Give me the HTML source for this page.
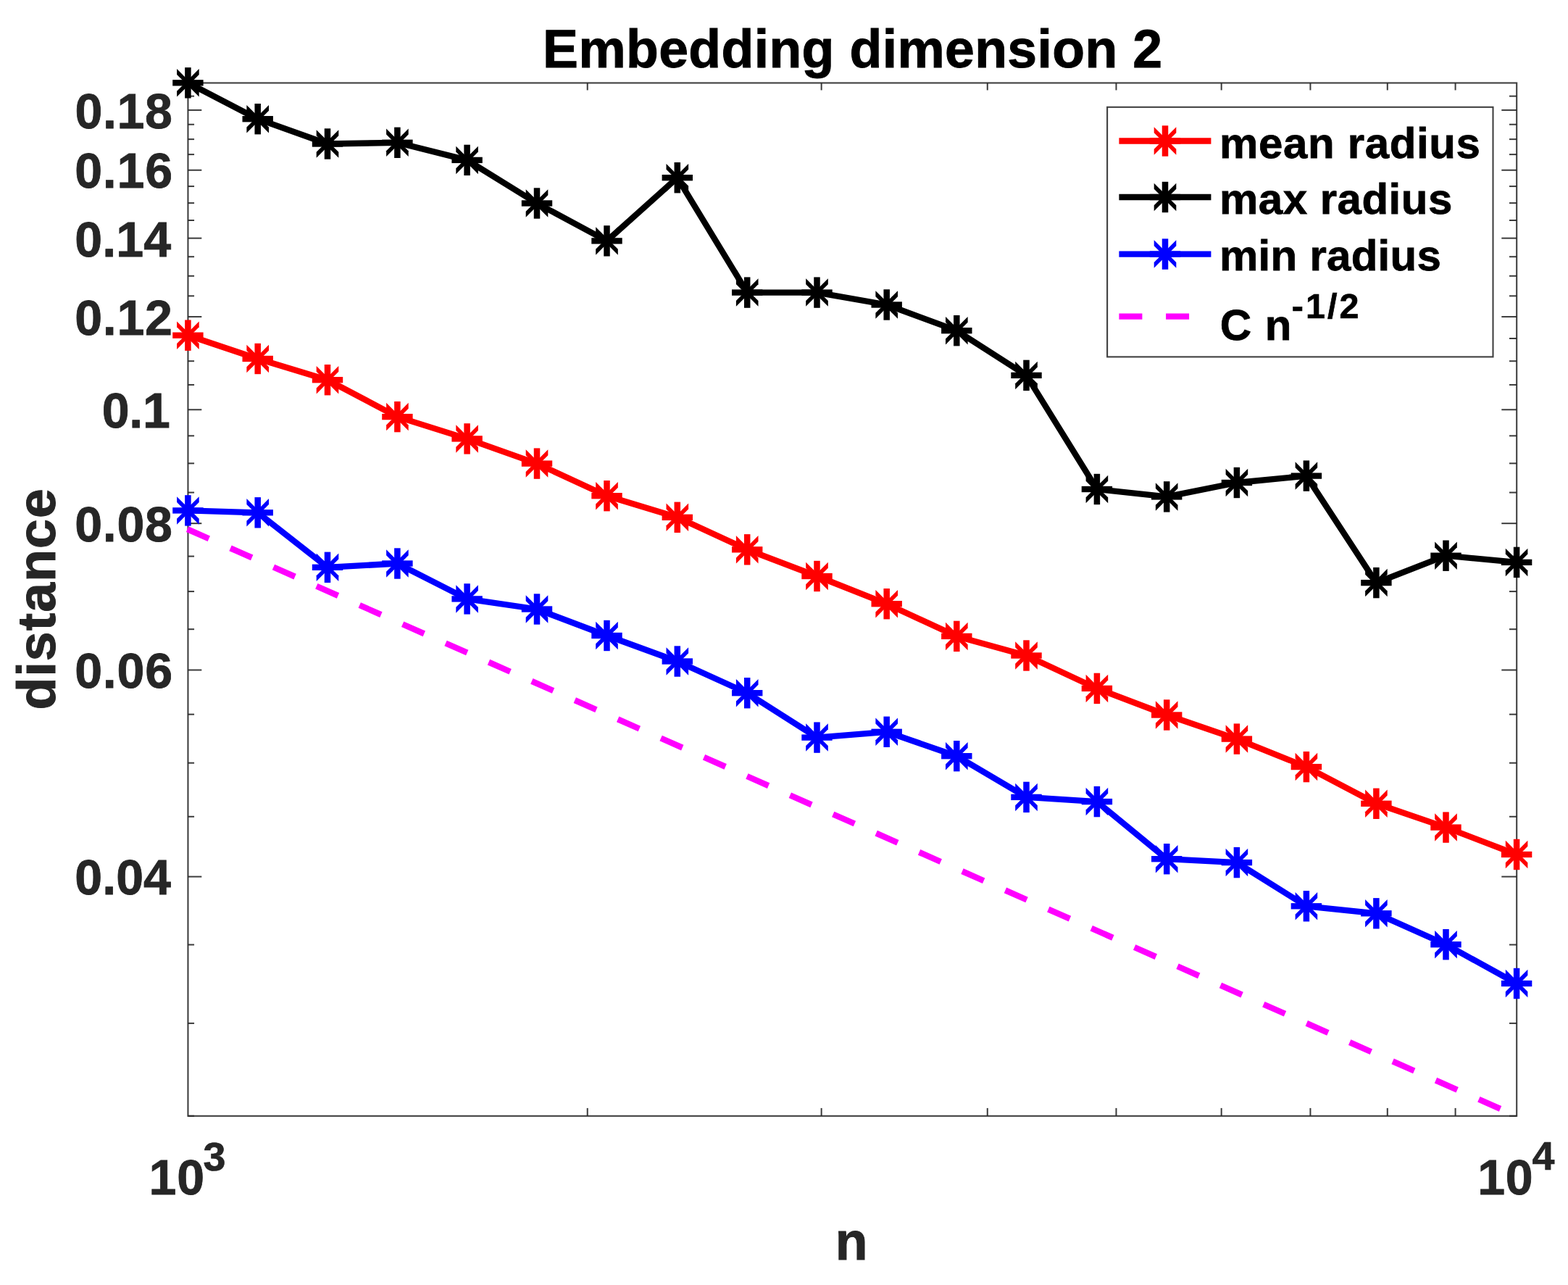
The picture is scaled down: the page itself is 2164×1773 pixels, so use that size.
<!DOCTYPE html>
<html lang="en"><head><meta charset="utf-8"><title>Embedding dimension 2</title>
<style>html,body{margin:0;padding:0;background:#fff;}body{width:2164px;height:1773px;overflow:hidden;}svg{display:block;}text{font-family:"Liberation Sans",sans-serif;font-weight:bold;stroke-linejoin:miter;}</style>
</head><body>
<svg width="2164" height="1773" viewBox="0 0 2164 1773">
<rect x="0" y="0" width="2164" height="1773" fill="#ffffff"/>
<defs><g id="m"><rect x="-4.25" y="-21.2" width="8.5" height="42.4"/><rect x="-21.2" y="-4.17" width="42.4" height="8.34"/><polygon points="-15.3,-19.25 -15.3,-11.35 15.3,19.25 15.3,11.35"/><polygon points="-15.3,11.35 -15.3,19.25 15.3,-11.35 15.3,-19.25"/></g></defs>
<g stroke="#262626" stroke-width="2.0" fill="none" stroke-opacity="0.9" stroke-linecap="butt"><line x1="810.73" y1="1539.8" x2="810.73" y2="1528.90"/><line x1="810.73" y1="114.45" x2="810.73" y2="124.45"/><line x1="1133.64" y1="1539.8" x2="1133.64" y2="1528.90"/><line x1="1133.64" y1="114.45" x2="1133.64" y2="124.45"/><line x1="1362.76" y1="1539.8" x2="1362.76" y2="1528.90"/><line x1="1362.76" y1="114.45" x2="1362.76" y2="124.45"/><line x1="1540.47" y1="1539.8" x2="1540.47" y2="1528.90"/><line x1="1540.47" y1="114.45" x2="1540.47" y2="124.45"/><line x1="1685.67" y1="1539.8" x2="1685.67" y2="1528.90"/><line x1="1685.67" y1="114.45" x2="1685.67" y2="124.45"/><line x1="1808.44" y1="1539.8" x2="1808.44" y2="1528.90"/><line x1="1808.44" y1="114.45" x2="1808.44" y2="124.45"/><line x1="1914.79" y1="1539.8" x2="1914.79" y2="1528.90"/><line x1="1914.79" y1="114.45" x2="1914.79" y2="124.45"/><line x1="2008.59" y1="1539.8" x2="2008.59" y2="1528.90"/><line x1="2008.59" y1="114.45" x2="2008.59" y2="124.45"/><line x1="259.45" y1="1411.90" x2="268.05" y2="1411.90"/><line x1="2093.2" y1="1411.90" x2="2083.00" y2="1411.90"/><line x1="259.45" y1="1303.50" x2="268.05" y2="1303.50"/><line x1="2093.2" y1="1303.50" x2="2083.00" y2="1303.50"/><line x1="259.45" y1="1209.60" x2="278.30" y2="1209.60"/><line x1="2093.2" y1="1209.60" x2="2072.30" y2="1209.60"/><line x1="259.45" y1="1126.77" x2="268.05" y2="1126.77"/><line x1="2093.2" y1="1126.77" x2="2083.00" y2="1126.77"/><line x1="259.45" y1="1052.69" x2="268.05" y2="1052.69"/><line x1="2093.2" y1="1052.69" x2="2083.00" y2="1052.69"/><line x1="259.45" y1="985.66" x2="268.05" y2="985.66"/><line x1="2093.2" y1="985.66" x2="2083.00" y2="985.66"/><line x1="259.45" y1="924.48" x2="278.30" y2="924.48"/><line x1="2093.2" y1="924.48" x2="2072.30" y2="924.48"/><line x1="259.45" y1="868.19" x2="268.05" y2="868.19"/><line x1="2093.2" y1="868.19" x2="2083.00" y2="868.19"/><line x1="259.45" y1="816.08" x2="268.05" y2="816.08"/><line x1="2093.2" y1="816.08" x2="2083.00" y2="816.08"/><line x1="259.45" y1="767.56" x2="268.05" y2="767.56"/><line x1="2093.2" y1="767.56" x2="2083.00" y2="767.56"/><line x1="259.45" y1="722.18" x2="278.30" y2="722.18"/><line x1="2093.2" y1="722.18" x2="2072.30" y2="722.18"/><line x1="259.45" y1="679.55" x2="268.05" y2="679.55"/><line x1="2093.2" y1="679.55" x2="2083.00" y2="679.55"/><line x1="259.45" y1="639.35" x2="268.05" y2="639.35"/><line x1="2093.2" y1="639.35" x2="2083.00" y2="639.35"/><line x1="259.45" y1="601.33" x2="268.05" y2="601.33"/><line x1="2093.2" y1="601.33" x2="2083.00" y2="601.33"/><line x1="259.45" y1="565.26" x2="278.30" y2="565.26"/><line x1="2093.2" y1="565.26" x2="2072.30" y2="565.26"/><line x1="259.45" y1="530.96" x2="268.05" y2="530.96"/><line x1="2093.2" y1="530.96" x2="2083.00" y2="530.96"/><line x1="259.45" y1="498.24" x2="268.05" y2="498.24"/><line x1="2093.2" y1="498.24" x2="2083.00" y2="498.24"/><line x1="259.45" y1="466.98" x2="268.05" y2="466.98"/><line x1="2093.2" y1="466.98" x2="2083.00" y2="466.98"/><line x1="259.45" y1="437.06" x2="278.30" y2="437.06"/><line x1="2093.2" y1="437.06" x2="2072.30" y2="437.06"/><line x1="259.45" y1="408.35" x2="268.05" y2="408.35"/><line x1="2093.2" y1="408.35" x2="2083.00" y2="408.35"/><line x1="259.45" y1="380.77" x2="268.05" y2="380.77"/><line x1="2093.2" y1="380.77" x2="2083.00" y2="380.77"/><line x1="259.45" y1="354.23" x2="268.05" y2="354.23"/><line x1="2093.2" y1="354.23" x2="2083.00" y2="354.23"/><line x1="259.45" y1="328.66" x2="278.30" y2="328.66"/><line x1="2093.2" y1="328.66" x2="2072.30" y2="328.66"/><line x1="259.45" y1="303.98" x2="268.05" y2="303.98"/><line x1="2093.2" y1="303.98" x2="2083.00" y2="303.98"/><line x1="259.45" y1="280.14" x2="268.05" y2="280.14"/><line x1="2093.2" y1="280.14" x2="2083.00" y2="280.14"/><line x1="259.45" y1="257.08" x2="268.05" y2="257.08"/><line x1="2093.2" y1="257.08" x2="2083.00" y2="257.08"/><line x1="259.45" y1="234.76" x2="278.30" y2="234.76"/><line x1="2093.2" y1="234.76" x2="2072.30" y2="234.76"/><line x1="259.45" y1="213.12" x2="268.05" y2="213.12"/><line x1="2093.2" y1="213.12" x2="2083.00" y2="213.12"/><line x1="259.45" y1="192.13" x2="268.05" y2="192.13"/><line x1="2093.2" y1="192.13" x2="2083.00" y2="192.13"/><line x1="259.45" y1="171.74" x2="268.05" y2="171.74"/><line x1="2093.2" y1="171.74" x2="2083.00" y2="171.74"/><line x1="259.45" y1="151.93" x2="278.30" y2="151.93"/><line x1="2093.2" y1="151.93" x2="2072.30" y2="151.93"/><line x1="259.45" y1="132.67" x2="268.05" y2="132.67"/><line x1="2093.2" y1="132.67" x2="2083.00" y2="132.67"/><line x1="259.45" y1="1539.8" x2="268.05" y2="1539.8"/><line x1="2093.2" y1="1539.8" x2="2083.00" y2="1539.8"/></g>
<rect x="259.45" y="114.45" width="1833.75" height="1425.35" fill="none" stroke="#262626" stroke-width="2.1" stroke-opacity="0.88"/>
<g fill="#ff0000" stroke="none"><polyline points="259.40,462.70 355.70,495.00 452.00,524.20 548.40,575.10 644.60,605.40 741.00,639.60 837.50,684.20 934.80,713.80 1031.20,758.30 1127.50,795.00 1223.70,833.20 1320.30,877.90 1416.50,904.50 1513.90,949.90 1610.20,986.50 1706.90,1019.60 1802.90,1058.10 1899.40,1108.80 1995.50,1141.60 2093.10,1179.00" fill="none" stroke="#ff0000" stroke-width="8.33" stroke-linejoin="round" stroke-linecap="butt"/><use href="#m" x="259.40" y="462.70"/><use href="#m" x="355.70" y="495.00"/><use href="#m" x="452.00" y="524.20"/><use href="#m" x="548.40" y="575.10"/><use href="#m" x="644.60" y="605.40"/><use href="#m" x="741.00" y="639.60"/><use href="#m" x="837.50" y="684.20"/><use href="#m" x="934.80" y="713.80"/><use href="#m" x="1031.20" y="758.30"/><use href="#m" x="1127.50" y="795.00"/><use href="#m" x="1223.70" y="833.20"/><use href="#m" x="1320.30" y="877.90"/><use href="#m" x="1416.50" y="904.50"/><use href="#m" x="1513.90" y="949.90"/><use href="#m" x="1610.20" y="986.50"/><use href="#m" x="1706.90" y="1019.60"/><use href="#m" x="1802.90" y="1058.10"/><use href="#m" x="1899.40" y="1108.80"/><use href="#m" x="1995.50" y="1141.60"/><use href="#m" x="2093.10" y="1179.00"/></g>
<g fill="#000000" stroke="none"><polyline points="259.40,114.30 355.70,164.20 452.00,198.50 548.40,196.80 644.60,220.90 741.00,280.50 837.50,332.40 934.80,245.20 1031.20,403.60 1127.50,403.60 1223.70,420.50 1320.30,456.20 1416.50,517.90 1513.90,675.00 1610.20,685.40 1706.90,666.00 1802.90,656.60 1899.40,804.10 1995.50,766.70 2093.10,775.90" fill="none" stroke="#000000" stroke-width="8.33" stroke-linejoin="round" stroke-linecap="butt"/><use href="#m" x="259.40" y="114.30"/><use href="#m" x="355.70" y="164.20"/><use href="#m" x="452.00" y="198.50"/><use href="#m" x="548.40" y="196.80"/><use href="#m" x="644.60" y="220.90"/><use href="#m" x="741.00" y="280.50"/><use href="#m" x="837.50" y="332.40"/><use href="#m" x="934.80" y="245.20"/><use href="#m" x="1031.20" y="403.60"/><use href="#m" x="1127.50" y="403.60"/><use href="#m" x="1223.70" y="420.50"/><use href="#m" x="1320.30" y="456.20"/><use href="#m" x="1416.50" y="517.90"/><use href="#m" x="1513.90" y="675.00"/><use href="#m" x="1610.20" y="685.40"/><use href="#m" x="1706.90" y="666.00"/><use href="#m" x="1802.90" y="656.60"/><use href="#m" x="1899.40" y="804.10"/><use href="#m" x="1995.50" y="766.70"/><use href="#m" x="2093.10" y="775.90"/></g>
<g fill="#0000ff" stroke="none"><polyline points="259.40,704.40 355.70,707.30 452.00,782.80 548.40,777.50 644.60,826.40 741.00,840.50 837.50,877.00 934.80,912.50 1031.20,956.20 1127.50,1017.60 1223.70,1009.80 1320.30,1043.20 1416.50,1099.90 1513.90,1106.10 1610.20,1185.20 1706.90,1190.10 1802.90,1250.30 1899.40,1260.30 1995.50,1303.20 2093.10,1357.00" fill="none" stroke="#0000ff" stroke-width="8.33" stroke-linejoin="round" stroke-linecap="butt"/><use href="#m" x="259.40" y="704.40"/><use href="#m" x="355.70" y="707.30"/><use href="#m" x="452.00" y="782.80"/><use href="#m" x="548.40" y="777.50"/><use href="#m" x="644.60" y="826.40"/><use href="#m" x="741.00" y="840.50"/><use href="#m" x="837.50" y="877.00"/><use href="#m" x="934.80" y="912.50"/><use href="#m" x="1031.20" y="956.20"/><use href="#m" x="1127.50" y="1017.60"/><use href="#m" x="1223.70" y="1009.80"/><use href="#m" x="1320.30" y="1043.20"/><use href="#m" x="1416.50" y="1099.90"/><use href="#m" x="1513.90" y="1106.10"/><use href="#m" x="1610.20" y="1185.20"/><use href="#m" x="1706.90" y="1190.10"/><use href="#m" x="1802.90" y="1250.30"/><use href="#m" x="1899.40" y="1260.30"/><use href="#m" x="1995.50" y="1303.20"/><use href="#m" x="2093.10" y="1357.00"/></g>
<line x1="258.6" y1="730.1" x2="2093.2" y2="1539.9" stroke="#ff00ff" stroke-width="8.33" stroke-dasharray="32.45 32.49" stroke-linecap="butt"/>
<rect x="1528.1" y="147.8" width="532.40" height="344.60" fill="#ffffff" stroke="#262626" stroke-opacity="0.88" stroke-width="2.1"/>
<g fill="#ff0000"><line x1="1544.4" y1="194.5" x2="1671.4" y2="194.5" stroke="#ff0000" stroke-width="8.33"/><use href="#m" x="1608.0" y="194.5"/></g>
<g fill="#000000"><line x1="1544.4" y1="272.0" x2="1671.4" y2="272.0" stroke="#000000" stroke-width="8.33"/><use href="#m" x="1608.0" y="272.0"/></g>
<g fill="#0000ff"><line x1="1544.4" y1="350.6" x2="1671.4" y2="350.6" stroke="#0000ff" stroke-width="8.33"/><use href="#m" x="1608.0" y="350.6"/></g>
<line x1="1544.4" y1="436.7" x2="1671.4" y2="436.7" stroke="#ff00ff" stroke-width="8.33" stroke-dasharray="32.0 32.7"/>
<text x="1683.0" y="218.10" font-size="60" fill="#000000" stroke="#000000" stroke-width="0.8" letter-spacing="0.65">mean radius</text>
<text x="1683.0" y="294.60" font-size="60" fill="#000000" stroke="#000000" stroke-width="0.8" letter-spacing="0.494">max radius</text>
<text x="1683.0" y="373.00" font-size="60" fill="#000000" stroke="#000000" stroke-width="0.8" letter-spacing="0.272">min radius</text>
<text x="1683.8" y="468.50" font-size="60" fill="#000000" stroke="#000000" stroke-width="0.8" letter-spacing="0.975">C n</text>
<text x="1782.7" y="439.05" font-size="48.5" fill="#000000" stroke="#000000" stroke-width="0.7" letter-spacing="3.1">-1/2</text>
<text x="749.1" y="92.90" font-size="73.33" fill="#000000" stroke="#000000" stroke-width="1.0" letter-spacing="0.38">Embedding dimension 2</text>
<text x="103.35" y="1233.80" font-size="68.1" fill="#262626" stroke="#262626" stroke-width="0.8" letter-spacing="0.017">0.04</text>
<text x="103.15" y="948.80" font-size="68.1" fill="#262626" stroke="#262626" stroke-width="0.8" letter-spacing="0.817">0.06</text>
<text x="103.15" y="747.20" font-size="68.1" fill="#262626" stroke="#262626" stroke-width="0.8" letter-spacing="0.733">0.08</text>
<text x="140.65" y="589.70" font-size="68.1" fill="#262626" stroke="#262626" stroke-width="0.8" letter-spacing="-0.25">0.1</text>
<text x="103.25" y="462.20" font-size="68.1" fill="#262626" stroke="#262626" stroke-width="0.8" letter-spacing="0.733">0.12</text>
<text x="103.15" y="353.64" font-size="68.1" fill="#262626" stroke="#262626" stroke-width="0.8" letter-spacing="0.117">0.14</text>
<text x="103.15" y="259.28" font-size="68.1" fill="#262626" stroke="#262626" stroke-width="0.8" letter-spacing="0.783">0.16</text>
<text x="103.55" y="177.16" font-size="68.1" fill="#262626" stroke="#262626" stroke-width="0.8" letter-spacing="0.633">0.18</text>
<text x="205.6" y="1647.60" font-size="68.1" fill="#262626" stroke="#262626" stroke-width="0.8" letter-spacing="0.75">10</text>
<text x="280.6" y="1614.65" font-size="55.6" fill="#262626" stroke="#262626" stroke-width="0.7">3</text>
<text x="2039.3" y="1647.60" font-size="68.1" fill="#262626" stroke="#262626" stroke-width="0.8" letter-spacing="0.55">10</text>
<text x="2114.5" y="1614.40" font-size="55.6" fill="#262626" stroke="#262626" stroke-width="0.7">4</text>
<text x="1152.85" y="1738.35" font-size="73.33" fill="#262626" stroke="#262626" stroke-width="1.0">n</text>
<text transform="translate(76.20,979.50) rotate(-90)" font-size="73.33" fill="#262626" stroke="#262626" stroke-width="1.0" letter-spacing="1.1">distance</text>
</svg></body></html>
